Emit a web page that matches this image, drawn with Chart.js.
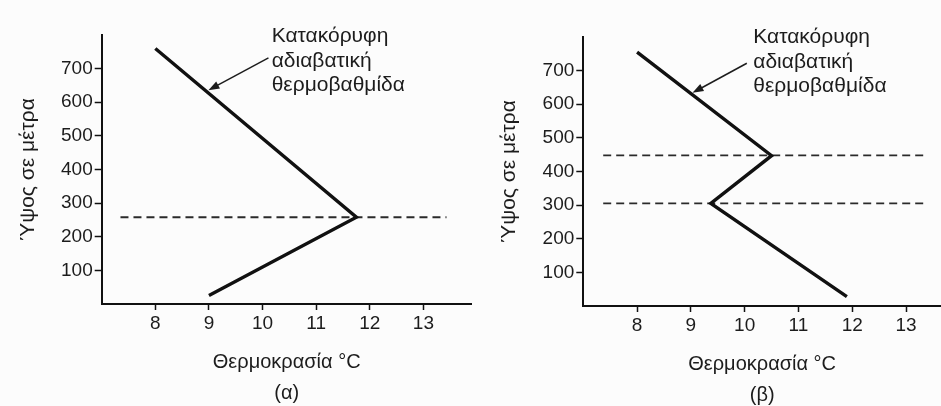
<!DOCTYPE html>
<html>
<head>
<meta charset="utf-8">
<script src="https://cdn.jsdelivr.net/npm/chart.js@4/dist/chart.umd.min.js"></script>
<style>
  html, body { margin: 0; padding: 0; background: #fcfcfc; }
  .panel { position: absolute; top: 0; height: 406px; }
</style>
</head>
<body>
<div class="panel" style="left:0;width:485px"><canvas id="chartA"></canvas></div>
<div class="panel" style="left:485px;width:456px"><canvas id="chartB"></canvas></div>
<script>
// tick labels
const xTicks = [8, 9, 10, 11, 12, 13];
const yTicks = [100, 200, 300, 400, 500, 600, 700];

// (α) one inversion
const tempA = [8.0, 11.75, 9.0];
const heightA = [760, 258, 25];
const inversionA = [258];
const dashSpanA = [7.35, 13.43];

// (β) inversion layer between two heights
const tempB = [8.0, 10.5, 9.37, 11.9];
const heightB = [755, 447, 305, 28];
const inversionB = [448, 305];
const dashSpanB = [7.37, 13.41];

const noteLines = ['Κατακόρυφη', 'αδιαβατική', 'θερμοβαθμίδα'];
const xTitle = 'Θερμοκρασία °C';
const yTitle = 'Ύψος σε μέτρα';

const FONT = '"Liberation Sans", Arial, sans-serif';
const INK = '#1c1c1c';

// text + arrow in data coords
const notePlugin = {
  id: 'note',
  afterDatasetsDraw(chart, args, opts) {
    const ctx = chart.ctx;
    const x = chart.scales.x, y = chart.scales.y;
    ctx.save();
    ctx.fillStyle = INK;
    ctx.font = '21px ' + FONT;
    ctx.textBaseline = 'alphabetic';
    const tx = x.getPixelForValue(opts.at[0]);
    const ty = y.getPixelForValue(opts.at[1]);
    noteLines.forEach((t, i) => ctx.fillText(t, tx, ty + i * 24.5));

    const x0 = x.getPixelForValue(opts.from[0]), y0 = y.getPixelForValue(opts.from[1]);
    const x1 = x.getPixelForValue(opts.to[0]), y1 = y.getPixelForValue(opts.to[1]);
    const a = Math.atan2(y1 - y0, x1 - x0);
    ctx.strokeStyle = INK;
    ctx.lineWidth = 1.5;
    ctx.beginPath();
    ctx.moveTo(x0, y0);
    ctx.lineTo(x1 - 8 * Math.cos(a), y1 - 8 * Math.sin(a));
    ctx.stroke();
    ctx.beginPath();
    ctx.moveTo(x1, y1);
    ctx.lineTo(x1 - 11 * Math.cos(a) + 4 * Math.sin(a), y1 - 11 * Math.sin(a) - 4 * Math.cos(a));
    ctx.lineTo(x1 - 11 * Math.cos(a) - 4 * Math.sin(a), y1 - 11 * Math.sin(a) + 4 * Math.cos(a));
    ctx.closePath();
    ctx.fill();
    ctx.restore();
  }
};

function makeChart(id, temps, heights, inversions, span, cfg) {
  const datasets = [{
    data: temps.map((t, i) => ({x: t, y: heights[i]})),
    borderColor: '#111',
    borderWidth: 3.4,
    borderJoinStyle: 'miter',
    pointRadius: 0,
    tension: 0
  }];
  inversions.forEach(h => {
    datasets.push({
      data: [{x: span[0], y: h}, {x: span[1], y: h}],
      borderColor: '#2a2a2a',
      borderWidth: 1.8,
      borderDash: [8, 5],
      pointRadius: 0
    });
  });

  return new Chart(document.getElementById(id), {
    type: 'line',
    data: { datasets: datasets },
    plugins: [notePlugin],
    options: {
      responsive: true,
      maintainAspectRatio: false,
      animation: false,
      layout: { padding: { top: cfg.top, right: cfg.right, left: 0, bottom: 0 } },
      plugins: {
        legend: { display: false },
        tooltip: { enabled: false },
        note: cfg.note
      },
      scales: {
        x: {
          type: 'linear',
          min: 7,
          max: cfg.xMax,
          afterBuildTicks: s => { s.ticks = xTicks.map(v => ({value: v})); },
          afterFit: s => { s.height = cfg.xHeight; },
          border: { color: '#111', width: 2 },
          grid: { drawOnChartArea: false, tickLength: 6, tickColor: '#111', tickWidth: 1.5 },
          ticks: { color: INK, padding: 2, font: { family: FONT, size: 19 } },
          title: {
            display: true,
            text: [xTitle, cfg.label],
            color: INK,
            padding: { top: 0, bottom: cfg.titlePad },
            font: { family: FONT, size: 20, lineHeight: 1.55 }
          }
        },
        y: {
          min: 0,
          max: 800,
          afterBuildTicks: s => { s.ticks = yTicks.map(v => ({value: v})); },
          afterFit: s => { s.width = cfg.yWidth; },
          border: { color: '#111', width: 2 },
          grid: { drawOnChartArea: false, tickLength: 7, tickColor: '#111', tickWidth: 1.5 },
          ticks: { color: INK, padding: 2, font: { family: FONT, size: 19 } },
          title: {
            display: true,
            text: yTitle,
            color: INK,
            padding: { top: cfg.yTitlePad, bottom: 0 },
            font: { family: FONT, size: 21, lineHeight: 1.2 }
          }
        }
      }
    }
  });
}

makeChart('chartA', tempA, heightA, inversionA, dashSpanA, {
  top: 35, right: 13.3, xMax: 13.9, xHeight: 102, yWidth: 101.7,
  label: '(α)', titlePad: -2.5, yTitlePad: 16,
  note: { at: [10.17, 779], from: [10.11, 732], to: [8.99, 636] }
});

makeChart('chartB', tempB, heightB, inversionB, dashSpanB, {
  top: 37, right: 0, xMax: 13.65, xHeight: 100, yWidth: 98.3,
  label: '(β)', titlePad: -4.5, yTitlePad: 12,
  note: { at: [10.16, 782], from: [10.04, 722], to: [9.03, 634] }
});
</script>
</body>
</html>
